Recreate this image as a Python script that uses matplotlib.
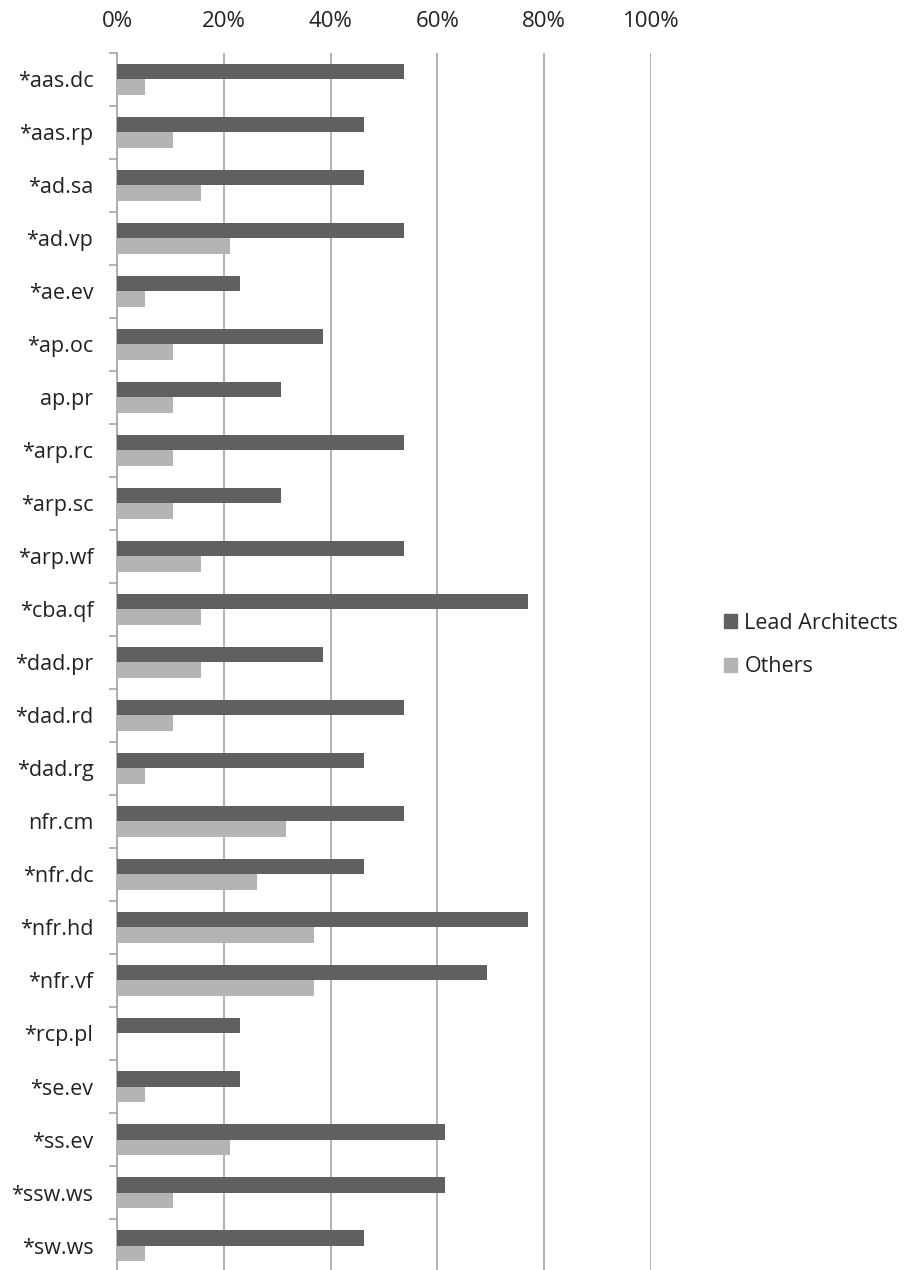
import matplotlib
matplotlib.use("Agg")
import matplotlib.pyplot as plt
from matplotlib.patches import Patch
import numpy as np

plt.rcParams['font.family'] = ['Open Sans', 'DejaVu Sans']

categories = ["*aas.dc", "*aas.rp", "*ad.sa", "*ad.vp", "*ae.ev", "*ap.oc", "ap.pr",
              "*arp.rc", "*arp.sc", "*arp.wf", "*cba.qf", "*dad.pr", "*dad.rd", "*dad.rg",
              "nfr.cm", "*nfr.dc", "*nfr.hd", "*nfr.vf", "*rcp.pl", "*se.ev", "*ss.ev",
              "*ssw.ws", "*sw.ws"]
lead = [53.8, 46.2, 46.2, 53.8, 23.1, 38.5, 30.8, 53.8, 30.8, 53.8, 76.9, 38.5, 53.8,
        46.2, 53.8, 46.2, 76.9, 69.2, 23.1, 23.1, 61.5, 61.5, 46.2]
others = [5.3, 10.5, 15.8, 21.1, 5.3, 10.5, 10.5, 10.5, 10.5, 15.8, 15.8, 15.8, 10.5,
          5.3, 31.6, 26.3, 36.8, 36.8, 0.0, 5.3, 21.1, 10.5, 5.3]

dark = "#606060"
light = "#b4b4b4"
grid = "#a6a6a6"

fig = plt.figure(figsize=(9.08, 12.7), dpi=100)
ax = fig.add_axes([0.1289, -0.0016, 0.588, 0.96])

y = np.arange(len(categories))
h = 0.29
ax.barh(y - h / 2, lead, height=h, color=dark, zorder=3)
ax.barh(y + h / 2, others, height=h, color=light, zorder=3)

ax.set_xlim(0, 100)
ax.set_ylim(len(categories) - 0.5, -0.5)
ax.xaxis.tick_top()
ax.set_xticks(np.arange(0, 101, 20))
ax.set_xticklabels([f"{v}%" for v in range(0, 101, 20)], fontsize=16, color="#222222")
ax.tick_params(axis='x', length=0, pad=15)
ax.grid(axis='x', color=grid, linewidth=1.2, zorder=0)

ax.set_yticks(y)
ax.set_yticklabels(categories, fontsize=15.5, color="#222222")
ax.tick_params(axis='y', which='major', length=0, pad=17)
ax.set_yticks(np.arange(-0.5, len(categories), 1.0), minor=True)
ax.tick_params(axis='y', which='minor', length=6, width=1.2, color=grid)

for s in ['top', 'right', 'bottom']:
    ax.spines[s].set_visible(False)
ax.spines['left'].set_color(grid)
ax.spines['left'].set_linewidth(1.2)

handles = [Patch(color=dark, label="Lead Architects"), Patch(color=light, label="Others")]
fig.legend(handles=handles, loc='center left', bbox_to_anchor=(0.776, 0.492),
           frameon=False, fontsize=15.5, handlelength=0.6, handleheight=0.6,
           handletextpad=0.35, labelspacing=1.05, labelcolor="#222222")

fig.savefig("out.png", dpi=100)
